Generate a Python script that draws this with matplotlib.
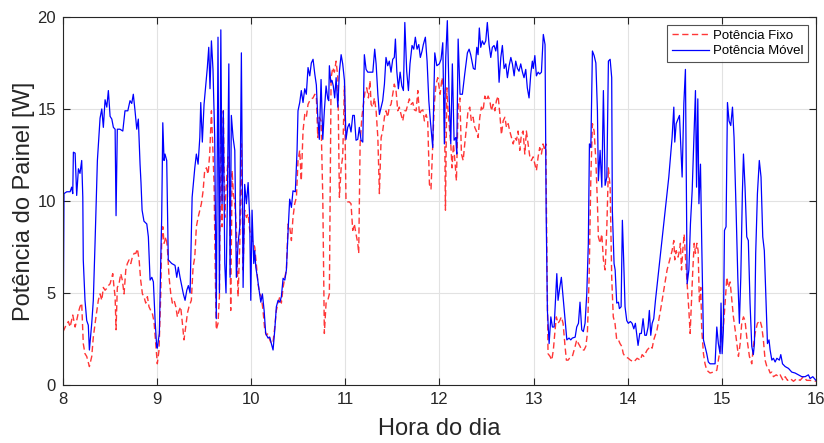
import matplotlib
matplotlib.use("Agg")
import matplotlib.pyplot as plt
import numpy as np


# minutes after 8:00 and panel power [W]
min_movel = [
    0.0, 0.6, 2.4, 4.5, 5.5, 6.2, 6.6, 7.7, 8.7, 9.8, 10.8, 11.9, 12.6, 12.9, 14.0, 15.1, 16.1, 16.8,
    18.3, 19.3, 20.4, 21.9, 23.6, 24.7, 25.7, 26.8, 27.9, 28.9, 30.0, 31.1, 32.1, 33.2, 33.8, 34.6,
    36.3, 38.1, 39.5, 41.3, 42.7, 43.8, 44.8, 45.9, 47.0, 48.0, 49.1, 49.7, 50.4, 51.6, 53.4, 54.4,
    55.5, 56.6, 57.6, 58.7, 59.7, 60.1, 61.4, 62.3, 62.9, 63.6, 64.4, 65.0, 66.1, 67.1, 69.3, 71.4,
    72.5, 73.5, 74.6, 76.7, 77.8, 78.9, 79.9, 81.0, 82.3, 84.0, 85.0, 86.1, 87.2, 87.8, 88.8, 89.9,
    90.7, 92.0, 92.9, 93.7, 94.6, 95.6, 96.7, 97.7, 98.8, 99.7, 100.6, 101.4, 102.2, 103.1, 103.9,
    104.8, 105.7, 106.5, 107.3, 108.4, 109.5, 110.5, 111.6, 112.7, 113.7, 114.8, 115.8, 116.9, 118.0,
    119.0, 119.7, 120.5, 121.6, 122.2, 122.9, 123.9, 125.0, 126.1, 127.1, 128.2, 129.2, 130.7, 131.8,
    132.8, 133.9, 135.0, 136.0, 137.1, 138.2, 139.2, 140.3, 141.4, 142.4, 143.5, 144.5, 145.6, 146.6,
    148.1, 149.2, 149.8, 150.9, 151.9, 153.0, 154.1, 155.1, 156.2, 157.3, 158.3, 159.4, 160.5, 161.5,
    162.4, 163.4, 164.5, 165.6, 166.6, 167.7, 168.8, 169.4, 169.8, 170.7, 171.5, 172.3, 173.2, 174.1,
    175.2, 176.2, 177.3, 178.3, 179.4, 180.4, 181.5, 182.5, 183.6, 184.7, 185.7, 186.8, 187.9, 188.9,
    190.0, 191.1, 192.1, 193.2, 194.3, 196.4, 197.5, 198.7, 199.6, 200.7, 201.7, 202.8, 203.8, 204.9,
    205.9, 207.0, 208.0, 209.1, 210.2, 211.2, 211.9, 212.8, 213.8, 214.9, 216.0, 217.0, 217.9, 219.1,
    220.2, 221.2, 222.5, 223.6, 224.6, 225.7, 226.8, 227.8, 228.9, 229.7, 231.0, 232.1, 233.2, 234.2,
    235.7, 237.0, 238.3, 239.9, 241.0, 242.1, 243.1, 244.0, 245.0, 246.1, 247.2, 248.2, 249.3, 250.4,
    251.0, 251.9, 253.1, 254.6, 256.1, 257.8, 258.9, 259.9, 261.6, 262.7, 263.8, 264.6, 265.4, 266.3,
    267.3, 268.4, 269.5, 270.5, 271.6, 272.7, 273.7, 274.8, 275.9, 276.9, 278.0, 279.1, 280.1, 281.2,
    282.3, 283.3, 284.4, 285.5, 286.5, 287.6, 288.6, 289.7, 290.7, 291.8, 292.9, 293.9, 295.0, 296.0,
    297.1, 298.2, 299.2, 299.8, 300.8, 301.8, 302.9, 303.9, 305.0, 306.2, 307.3, 308.0, 308.8, 309.9,
    311.0, 312.0, 313.1, 314.1, 314.8, 315.6, 316.7, 317.7, 318.8, 319.9, 321.2, 322.6, 323.7, 324.7,
    326.5, 327.5, 328.6, 329.6, 330.7, 331.7, 332.8, 333.9, 334.9, 335.6, 336.5, 337.5, 338.6, 339.7,
    340.7, 341.3, 342.4, 343.5, 344.5, 345.6, 346.7, 347.7, 348.8, 349.8, 350.2, 351.3, 352.0, 353.0,
    354.1, 354.7, 355.8, 356.6, 357.5, 358.3, 359.4, 360.4, 361.7, 362.8, 363.9, 364.9, 366.0, 366.6,
    367.7, 368.7, 369.8, 370.9, 371.9, 373.0, 373.8, 374.7, 375.6, 376.6, 377.7, 379.8, 381.9, 384.0,
    386.2, 388.3, 389.4, 390.0, 390.9, 392.1, 393.0, 394.7, 395.8, 396.8, 397.9, 399.0, 400.0, 401.1,
    403.2, 403.9, 404.7, 405.4, 406.4, 407.2, 408.3, 409.3, 410.4, 411.4, 412.5, 415.7, 416.8, 417.8,
    418.9, 419.5, 420.2, 421.0, 421.7, 422.7, 423.6, 424.6, 425.7, 426.8, 427.8, 429.1, 430.2, 431.2,
    432.1, 433.1, 433.8, 434.8, 435.9, 436.9, 438.0, 439.1, 440.1, 440.8, 441.6, 442.7, 443.9, 445.0,
    446.1, 447.1, 448.2, 449.1, 450.1, 450.8, 451.9, 452.9, 454.0, 455.1, 456.7, 457.6, 458.7, 460.4,
    462.5, 464.6, 466.7, 468.8, 471.0, 473.1, 475.2, 476.3, 478.0, 480.0,
]
pot_movel = [
    1.3, 10.4, 10.5, 10.5, 10.75, 10.4, 12.65, 12.6, 10.3, 11.75, 11.5, 12.2, 10.2, 6.8, 4.6, 3.5, 3.25, 1.9,
    3.35, 4.6, 7.7, 12.2, 14.5, 15.0, 14.0, 15.5, 15.1, 16.0, 14.6, 14.45, 14.0, 13.9, 9.2, 13.9,
    13.9, 13.8, 14.9, 14.9, 15.45, 15.3, 15.8, 14.9, 13.9, 14.45, 12.0, 11.0, 9.5, 8.9, 8.75, 8.05,
    5.7, 5.85, 5.6, 3.5, 2.1, 2.0, 2.8, 6.8, 9.1, 14.25, 12.2, 12.55, 12.2, 6.8, 6.6, 6.5,
    5.85, 6.4, 5.85, 4.95, 4.6, 5.15, 5.4, 5.0, 10.2, 11.8, 12.55, 12.0, 13.45, 15.35, 13.2, 15.25,
    16.0, 17.25, 18.35, 16.1, 18.7, 17.15, 13.45, 3.6, 18.9, 5.0, 19.3, 9.85, 14.9, 6.6, 5.0,
    10.2, 17.45, 5.85, 14.65, 13.45, 12.75, 5.85, 7.7, 8.6, 18.05, 5.3, 10.9, 9.85, 11.0,
    9.1, 4.6, 9.5, 6.6, 7.3, 6.4, 5.85, 5.15, 4.5, 4.95, 4.05, 2.8, 2.55, 2.6,
    2.25, 1.9, 3.0, 4.25, 4.6, 4.5, 4.8, 5.8, 5.7, 6.25, 8.4, 10.1, 9.65, 10.55,
    10.5, 12.75, 14.9, 15.35, 16.0, 15.35, 16.1, 15.8, 17.25, 16.8, 17.5, 17.7, 16.9, 16.3,
    14.55, 13.35, 16.6, 13.35, 14.9, 16.25, 15.55, 15.45, 17.35, 16.45, 16.55, 16.25, 15.6, 16.7,
    15.1, 17.05, 17.95, 17.45, 16.55, 13.35, 14.0, 14.2, 13.75, 14.65, 14.65, 13.3, 13.35, 14.0,
    13.3, 13.2, 17.95, 17.15, 17.0, 17.0, 17.0, 18.25, 17.45, 15.8, 14.7, 15.1, 15.45, 16.35,
    17.8, 17.35, 17.6, 17.0, 17.7, 17.8, 18.8, 17.05, 16.1, 17.0, 16.25, 16.0, 19.7, 17.05,
    16.0, 17.45, 18.45, 18.25, 18.9, 18.25, 18.5, 17.8, 18.15, 18.5, 18.9, 17.6, 15.45, 14.35,
    12.9, 18.05, 17.35, 17.45, 17.7, 18.6, 13.1, 17.8, 19.8, 15.8, 13.1, 17.45, 13.3, 13.45,
    12.55, 18.8, 15.8, 15.8, 16.9, 18.05, 18.25, 17.95, 17.2, 17.15, 18.35, 17.95, 19.4, 18.35,
    18.7, 18.5, 18.7, 19.7, 18.5, 17.8, 18.35, 18.45, 18.15, 18.7, 16.45, 17.8, 18.45, 17.2,
    17.45, 16.7, 17.35, 17.8, 17.45, 16.8, 17.6, 17.2, 17.05, 17.45, 17.0, 16.7, 17.15, 16.15,
    15.6, 16.9, 17.6, 17.2, 17.9, 16.8, 17.0, 16.9, 17.0, 19.05, 18.5, 9.5, 4.05, 2.25,
    3.7, 3.15, 3.15, 4.8, 6.05, 4.6, 5.3, 5.85, 4.8, 3.7, 2.45, 2.55, 2.45, 2.55,
    2.6, 3.15, 3.35, 4.5, 3.0, 2.9, 3.35, 4.95, 7.7, 13.1, 12.9, 18.15, 17.9, 17.5,
    14.9, 11.1, 12.75, 10.75, 16.0, 10.85, 11.3, 17.6, 17.7, 16.7, 9.5, 6.6, 6.25, 4.45,
    4.5, 4.15, 4.25, 8.95, 6.6, 4.25, 3.5, 3.35, 3.45, 3.35, 3.05, 3.35, 2.6, 2.15,
    2.8, 2.8, 3.6, 2.7, 2.7, 3.15, 4.05, 2.7, 3.35, 3.6, 4.6, 6.25, 7.85, 9.5,
    11.3, 13.45, 15.1, 13.2, 14.2, 14.45, 14.65, 11.3, 15.3, 17.15, 5.5, 6.25, 8.75, 10.55,
    16.0, 10.75, 15.55, 9.85, 12.0, 7.7, 2.45, 2.1, 1.7, 1.25, 1.15, 1.15, 3.15, 2.25,
    1.7, 4.45, 1.7, 3.0, 8.4, 8.6, 15.35, 14.35, 14.1, 15.1, 13.45, 9.5, 5.85, 3.35,
    5.85, 10.4, 12.55, 10.75, 8.05, 7.85, 4.45, 2.1, 1.65, 2.25, 7.15, 10.4, 12.2, 11.3,
    8.05, 7.3, 4.6, 2.25, 2.45, 1.9, 1.35, 1.45, 1.25, 1.45, 1.35, 1.65, 1.15, 1.0,
    0.9, 0.7, 0.65, 0.55, 0.45, 0.45, 0.55, 0.35, 0.45, 0.25,
]

min_fixo = [
    0.0, 0.6, 1.9, 3.4, 4.5, 6.2, 7.7, 8.7, 9.8, 10.8, 11.9, 12.9, 14.0, 15.1, 16.8, 18.3, 19.3, 21.0,
    22.5, 23.6, 24.7, 25.7, 26.8, 27.9, 28.9, 30.0, 31.1, 31.7, 32.5, 33.2, 33.8, 34.6, 35.7, 36.8,
    37.8, 38.9, 40.0, 41.0, 42.1, 43.2, 44.2, 45.3, 46.4, 47.4, 48.5, 49.5, 50.6, 51.6, 52.7, 53.8,
    54.8, 55.9, 56.9, 58.0, 59.1, 60.1, 61.2, 62.3, 62.9, 63.6, 64.4, 65.7, 66.5, 67.6, 68.7, 69.7,
    70.8, 71.9, 72.9, 74.0, 75.0, 76.1, 77.1, 78.2, 79.3, 80.3, 81.8, 82.9, 84.0, 85.0, 86.1, 87.2,
    88.2, 89.3, 90.3, 91.4, 92.5, 93.5, 94.6, 95.4, 96.3, 97.1, 97.7, 98.8, 99.7, 100.6, 101.4, 102.2,
    103.1, 104.1, 105.2, 106.0, 106.9, 107.8, 108.6, 109.5, 110.5, 111.6, 112.7, 113.7, 114.8, 115.8,
    116.9, 118.0, 119.0, 120.1, 121.1, 122.2, 123.2, 124.3, 125.4, 126.4, 127.5, 128.6, 129.6, 130.7,
    131.8, 132.8, 133.9, 135.0, 136.0, 137.1, 138.2, 139.2, 140.3, 141.4, 142.4, 143.5, 144.5, 145.6,
    146.6, 147.7, 148.8, 149.8, 150.9, 151.9, 153.0, 154.1, 155.1, 156.2, 157.3, 158.3, 159.4, 160.5,
    161.5, 162.4, 163.4, 164.5, 165.6, 166.6, 167.7, 168.8, 169.8, 170.9, 172.0, 173.0, 174.1, 175.2,
    176.2, 177.3, 178.3, 179.4, 180.4, 181.5, 182.5, 183.6, 184.7, 185.7, 186.8, 187.9, 188.5, 189.4,
    190.5, 191.5, 192.6, 193.6, 194.7, 195.7, 196.4, 197.5, 198.5, 199.6, 200.7, 201.7, 202.8, 203.8,
    204.9, 205.9, 207.0, 208.0, 209.1, 210.2, 211.2, 212.3, 213.4, 214.4, 215.5, 216.6, 217.6, 218.7,
    219.8, 220.8, 221.9, 223.0, 224.0, 225.1, 226.2, 227.2, 228.3, 229.4, 230.4, 231.5, 232.5, 233.6,
    234.6, 235.7, 236.7, 237.8, 238.9, 240.4, 241.6, 243.1, 243.8, 244.7, 245.5, 246.3, 247.2, 248.0,
    248.9, 250.0, 250.8, 251.9, 253.0, 254.0, 255.1, 256.1, 257.2, 258.2, 259.3, 260.3, 261.4, 262.5,
    263.5, 264.6, 265.7, 266.7, 267.8, 268.9, 269.9, 271.0, 272.1, 273.1, 274.2, 275.3, 276.3, 277.4,
    278.5, 279.5, 280.6, 281.7, 282.7, 283.8, 284.8, 285.9, 287.0, 288.0, 289.1, 290.1, 291.2, 292.2,
    293.3, 294.4, 295.4, 296.5, 297.6, 298.6, 299.7, 300.8, 301.8, 302.9, 303.9, 305.0, 306.0, 307.1,
    307.8, 308.4, 309.2, 310.5, 311.6, 312.6, 313.5, 314.5, 315.6, 316.7, 317.7, 318.8, 319.9, 320.9,
    322.0, 323.3, 324.7, 326.5, 327.5, 328.6, 329.6, 330.7, 332.2, 333.3, 334.3, 335.4, 336.5, 337.5,
    338.6, 339.7, 340.7, 341.3, 342.4, 343.5, 344.5, 345.6, 346.7, 347.7, 348.8, 349.8, 350.8, 351.9,
    353.0, 354.1, 355.1, 356.2, 357.2, 358.3, 360.4, 361.7, 363.9, 366.0, 368.1, 369.2, 370.3, 372.4,
    374.5, 375.6, 376.6, 378.7, 380.9, 383.0, 385.1, 387.2, 388.3, 389.4, 390.0, 390.9, 392.1, 393.0,
    393.6, 394.3, 395.1, 396.0, 396.8, 397.9, 399.0, 399.8, 400.6, 401.5, 402.4, 403.2, 404.1, 404.9,
    405.7, 406.6, 407.2, 408.3, 409.3, 410.4, 412.5, 414.6, 416.8, 417.8, 418.9, 420.0, 421.0, 422.1,
    423.2, 424.2, 425.3, 426.4, 427.4, 428.5, 429.6, 430.6, 431.7, 432.7, 433.8, 434.8, 435.9, 437.6,
    439.1, 440.1, 441.2, 442.7, 444.4, 445.5, 446.5, 447.6, 448.7, 449.7, 450.8, 451.9, 452.9, 454.7,
    456.2, 457.2, 459.0, 460.4, 461.9, 463.6, 465.7, 467.8, 469.9, 472.0, 474.1, 476.3, 480.0,
]
pot_fixo = [
    2.9, 3.0, 3.25, 3.45, 3.15, 3.8, 3.15, 3.5, 3.95, 4.25, 4.45, 2.25, 1.7, 1.55, 1.0, 1.55, 2.6, 3.7,
    4.6, 4.95, 4.6, 5.3, 5.15, 5.25, 5.4, 5.5, 5.85, 6.05, 5.3, 4.8, 3.0, 5.3, 5.5, 6.05,
    5.7, 4.95, 6.25, 6.6, 6.8, 6.6, 6.95, 7.15, 7.15, 7.4, 6.8, 5.7, 4.95, 4.8, 4.45, 4.8,
    4.25, 4.05, 3.9, 3.45, 2.25, 1.15, 1.9, 4.95, 7.85, 8.6, 7.7, 8.05, 7.5, 5.85, 4.95, 4.45,
    4.6, 4.25, 3.7, 4.05, 4.25, 3.35, 2.45, 3.15, 3.9, 4.25, 4.6, 6.4, 6.95, 8.6, 9.1, 9.5,
    9.85, 10.55, 11.65, 11.8, 11.45, 12.55, 14.9, 13.1, 10.9, 5.85, 3.0, 3.35, 4.8, 14.9, 8.6, 14.9,
    9.1, 10.9, 12.4, 11.65, 4.05, 11.65, 10.4, 9.85, 8.6, 4.8, 7.7, 13.1, 6.25, 9.5,
    9.1, 9.3, 8.4, 8.05, 7.7, 7.5, 6.6, 5.5, 4.95, 4.8, 4.05, 3.0, 2.7, 2.8,
    2.45, 2.25, 2.35, 3.15, 4.05, 4.45, 4.8, 4.45, 5.3, 5.85, 6.25, 8.75, 8.6, 7.85,
    9.1, 9.85, 10.2, 12.2, 12.75, 11.1, 13.8, 14.7, 14.55, 15.25, 15.45, 15.55, 15.6, 15.8,
    15.7, 13.45, 14.55, 14.35, 10.2, 2.8, 4.45, 4.6, 4.95, 16.7, 17.25, 17.0, 17.6, 16.7,
    10.2, 11.8, 12.4, 16.25, 10.0, 9.95, 9.95, 9.85, 8.4, 8.75, 8.2, 7.7, 7.15, 13.1,
    14.55, 15.25, 16.0, 16.15, 15.6, 16.55, 15.25, 15.1, 15.6, 14.9, 13.45, 10.4, 13.45, 13.8,
    14.55, 14.9, 14.55, 15.1, 15.25, 15.8, 16.35, 16.0, 14.9, 15.1, 14.7, 14.35, 14.9, 14.9,
    15.25, 15.55, 15.25, 15.35, 14.95, 14.9, 16.0, 14.7, 14.9, 14.95, 14.35, 14.7, 14.35, 10.9,
    10.65, 13.1, 15.25, 16.35, 16.7, 15.8, 16.7, 15.8, 9.5, 16.15, 14.9, 14.0, 13.1, 11.8,
    13.1, 12.0, 11.1, 15.1, 15.6, 12.55, 12.2, 13.1, 14.0, 14.9, 15.1, 14.35, 14.55, 14.0,
    13.8, 13.45, 14.55, 15.1, 14.9, 15.7, 15.45, 15.7, 15.45, 14.9, 15.25, 14.9, 15.45, 15.7,
    14.7, 13.6, 14.35, 14.55, 14.0, 14.2, 13.8, 13.45, 13.1, 13.45, 13.3, 13.8, 12.75, 13.6,
    13.8, 12.55, 13.8, 13.1, 12.4, 12.2, 12.4, 12.0, 11.65, 12.4, 12.9, 12.55, 13.1, 12.75,
    13.1, 7.7, 1.7, 1.55, 1.35, 1.9, 2.8, 3.7, 3.35, 3.5, 3.7, 3.35, 2.25, 1.35,
    1.35, 1.5, 1.55, 2.1, 2.45, 2.25, 2.1, 1.9, 1.9, 2.1, 2.8, 5.85, 11.3, 14.2,
    13.8, 12.2, 9.85, 8.05, 7.7, 8.2, 6.8, 6.25, 8.6, 11.8, 10.75, 5.85, 3.7, 3.35,
    2.45, 2.45, 2.25, 2.1, 1.7, 1.55, 1.45, 1.35, 1.25, 1.45, 1.35, 1.65, 1.55, 1.9,
    2.1, 2.0, 2.45, 3.0, 4.05, 5.15, 6.25, 6.95, 7.3, 7.85, 6.8, 7.3, 6.95, 7.3,
    7.7, 6.25, 7.3, 8.2, 6.95, 5.5, 4.05, 2.8, 4.45, 6.25, 7.7, 7.15, 7.7, 7.3,
    4.45, 5.3, 3.0, 1.7, 1.15, 0.8, 0.65, 0.7, 0.8, 1.35, 1.9, 3.15, 3.15, 4.45,
    5.85, 5.3, 5.6, 4.6, 3.7, 3.0, 2.25, 1.55, 2.25, 3.35, 3.7, 3.5, 2.6, 1.55,
    1.15, 2.1, 2.8, 3.35, 3.5, 3.15, 2.45, 1.35, 1.0, 0.9, 0.65, 0.7, 0.45, 0.55,
    0.45, 0.55, 0.25, 0.45, 0.25, 0.35, 0.2, 0.35, 0.25, 0.45, 0.25, 0.25, 0.2,
]

horas_ticks = [8, 9, 10, 11, 12, 13, 14, 15, 16]
pot_ticks = [0, 5, 10, 15, 20]

COR_FIXO = "#ff2020"
COR_MOVEL = "#0000ff"
COR_EIXO = "#262626"


hora_movel = 8 + np.array(min_movel) / 60.0
hora_fixo = 8 + np.array(min_fixo) / 60.0

plt.rcParams["font.family"] = ["Liberation Sans", "DejaVu Sans"]

fig = plt.figure(figsize=(8.24, 4.43), dpi=100)
ax = fig.add_axes([0.0765, 0.131, 0.9137, 0.8307])

ax.plot(hora_fixo, pot_fixo, color=COR_FIXO, lw=1.0, linestyle=(0, (4.5, 2.5)),
        label="Potência Fixo", alpha=0.9)
ax.plot(hora_movel, pot_movel, color=COR_MOVEL, lw=0.9, label="Potência Móvel")

ax.set_xlim(8, 16)
ax.set_ylim(0, 20)
ax.set_xticks(horas_ticks)
ax.set_yticks(pot_ticks)

ax.grid(True, color="#e2e2e2", lw=0.8)
ax.set_axisbelow(True)

for spine in ax.spines.values():
    spine.set_color(COR_EIXO)
    spine.set_linewidth(0.8)

ax.tick_params(direction="in", length=5, width=0.8, colors=COR_EIXO,
               labelsize=12, top=True, right=True, pad=5)

ax.set_xlabel("Hora do dia", fontsize=17, color=COR_EIXO, labelpad=8)
ax.set_ylabel("Potência do Painel [W]", fontsize=17, color=COR_EIXO, labelpad=2)

leg = ax.legend(loc="upper right", fontsize=9.5, frameon=True, fancybox=False,
                edgecolor=COR_EIXO, handlelength=2.8, borderpad=0.35,
                labelspacing=0.25, handletextpad=0.3, borderaxespad=0.6)
leg.get_frame().set_linewidth(0.8)

fig.savefig("out.png", dpi=100)
